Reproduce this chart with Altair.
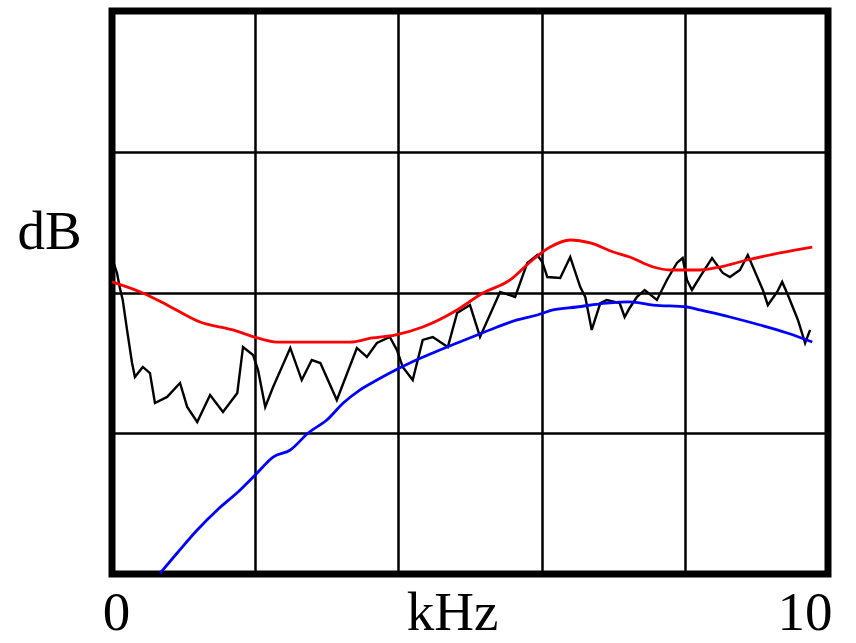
import altair as alt
import pandas as pd

# Red curve (upper envelope)
red_khz = [0.00, 0.43, 0.77, 1.23, 1.69, 2.03, 2.30, 3.32, 3.63, 3.95, 4.34, 4.82, 5.18, 5.56,
           5.84, 6.12, 6.40, 6.68, 7.00, 7.23, 7.56, 7.79, 8.21, 8.49, 8.87, 9.33, 9.78]
red_db = [20.75, 19.96, 19.11, 17.90, 17.34, 16.77, 16.48, 16.48, 16.77, 16.98, 17.55, 18.76, 19.96, 20.89,
          22.17, 23.23, 23.73, 23.52, 22.88, 22.52, 21.81, 21.60, 21.60, 21.81, 22.31, 22.81, 23.23]

# Blue curve
blue_khz = [0.67, 0.91, 1.19, 1.47, 1.79, 2.00, 2.25, 2.49, 2.74, 3.00, 3.23, 3.46, 3.70, 3.88,
            4.16, 4.48, 4.82, 5.10, 5.38, 5.66, 5.94, 6.16, 6.49, 6.91, 7.23, 7.56, 8.03, 8.21,
            8.63, 9.05, 9.43, 9.78]
blue_db = [0.05, 1.49, 3.13, 4.55, 5.97, 7.03, 8.31, 8.81, 10.02, 10.94, 12.15, 13.07, 13.78, 14.28,
           14.99, 15.70, 16.41, 16.98, 17.55, 18.05, 18.40, 18.76, 18.97, 19.25, 19.33, 19.11, 18.97, 18.76,
           18.26, 17.69, 17.12, 16.48]

# Black curve (spectrum)
black_khz = [0.00, 0.07, 0.11, 0.15, 0.21, 0.28, 0.32, 0.43, 0.53, 0.60, 0.77, 0.95, 1.05, 1.19,
             1.37, 1.55, 1.75, 1.83, 1.97, 2.04, 2.14, 2.25, 2.49, 2.65, 2.79, 2.91, 3.14, 3.42,
             3.56, 3.70, 3.88, 3.98, 4.06, 4.20, 4.34, 4.48, 4.69, 4.82, 5.00, 5.14, 5.42, 5.63,
             5.80, 5.94, 6.01, 6.08, 6.26, 6.40, 6.54, 6.61, 6.70, 6.82, 6.91, 7.09, 7.16, 7.23,
             7.33, 7.44, 7.61, 7.75, 7.89, 7.97, 8.03, 8.10, 8.21, 8.38, 8.53, 8.63, 8.77, 8.88,
             9.09, 9.16, 9.29, 9.36, 9.44, 9.58, 9.68, 9.75]
black_db = [22.45, 21.39, 20.32, 19.47, 17.34, 14.99, 14.00, 14.71, 14.28, 12.15, 12.58, 13.57, 11.87, 10.80,
            12.72, 11.51, 12.86, 16.13, 15.56, 14.49, 11.87, 13.29, 16.06, 13.78, 15.20, 14.99, 12.36, 16.06,
            15.42, 16.41, 16.84, 15.91, 14.71, 13.78, 16.63, 16.84, 16.13, 18.54, 19.11, 16.84, 20.04, 19.68,
            22.10, 22.66, 22.17, 21.10, 21.03, 22.52, 20.39, 19.68, 17.34, 19.25, 19.47, 19.25, 18.26, 18.90,
            19.68, 20.18, 19.47, 20.89, 22.10, 22.45, 20.89, 20.18, 21.10, 22.45, 21.39, 21.10, 21.60, 22.66,
            20.18, 19.11, 20.04, 20.75, 19.82, 18.05, 16.41, 17.34]

series_names = ["black", "red", "blue"]
series_colors = ["#000000", "#ff0000", "#0000ff"]

x_grid = [0, 2, 4, 6, 8, 10]
y_grid = [0, 10, 20, 30, 40]

rows = []
for name, xs, ys in [("black", black_khz, black_db), ("red", red_khz, red_db), ("blue", blue_khz, blue_db)]:
    for i, (xv, yv) in enumerate(zip(xs, ys)):
        rows.append({"series": name, "khz": xv, "db": yv, "i": i})
df = pd.DataFrame(rows)

FONT = "Liberation Serif"
FS = 55

base = alt.Chart(df).encode(
    x=alt.X("khz:Q",
            scale=alt.Scale(domain=[0, 10], nice=False, zero=False),
            axis=alt.Axis(values=x_grid,
                          labelExpr="datum.value == 0 || datum.value == 10 ? datum.label : ''",
                          labelFont=FONT, labelFontSize=FS, labelColor="black",
                          labelAlign={"condition": {"test": "datum.value == 10", "value": "right"},
                                      "value": "center"},
                          labelBaseline="bottom", labelPadding=67, labelOffset=4,
                          labelFlush=False, labelOverlap=False, labelBound=False,
                          ticks=False, tickSize=0, domain=False,
                          grid=True, gridColor="black", gridWidth=2.5, gridOpacity=1,
                          title="kHz", titleFont=FONT, titleFontSize=FS, titleFontWeight="normal",
                          titleColor="black", titleX=340, titleY=67,
                          titleAlign="center", titleBaseline="bottom")),
    y=alt.Y("db:Q",
            scale=alt.Scale(domain=[0, 40], nice=False, zero=False),
            axis=alt.Axis(values=y_grid, labels=False, ticks=False, tickSize=0, domain=False,
                          grid=True, gridColor="black", gridWidth=2.5, gridOpacity=1,
                          title="dB", titleFont=FONT, titleFontSize=FS, titleFontWeight="normal",
                          titleColor="black", titleAngle=0, titleX=-95, titleY=237,
                          titleAlign="left", titleBaseline="alphabetic")),
    color=alt.Color("series:N", scale=alt.Scale(domain=series_names, range=series_colors), legend=None),
    order="i:Q",
)

black_line = base.transform_filter(alt.datum.series == "black").mark_line(strokeWidth=2.4)
smooth_lines = base.transform_filter(alt.datum.series != "black").mark_line(
    strokeWidth=2.8, interpolate="monotone")

chart = alt.layer(black_line, smooth_lines).properties(
    width=716, height=563,
    autosize=alt.AutoSizeParams(type="none"),
    padding={"left": 112, "top": 11, "right": 28, "bottom": 69},
    background="white",
).configure_view(
    stroke="black", strokeWidth=7, fill="white"
)

chart.save("out.html", embed_options={"renderer": "svg", "actions": False})
